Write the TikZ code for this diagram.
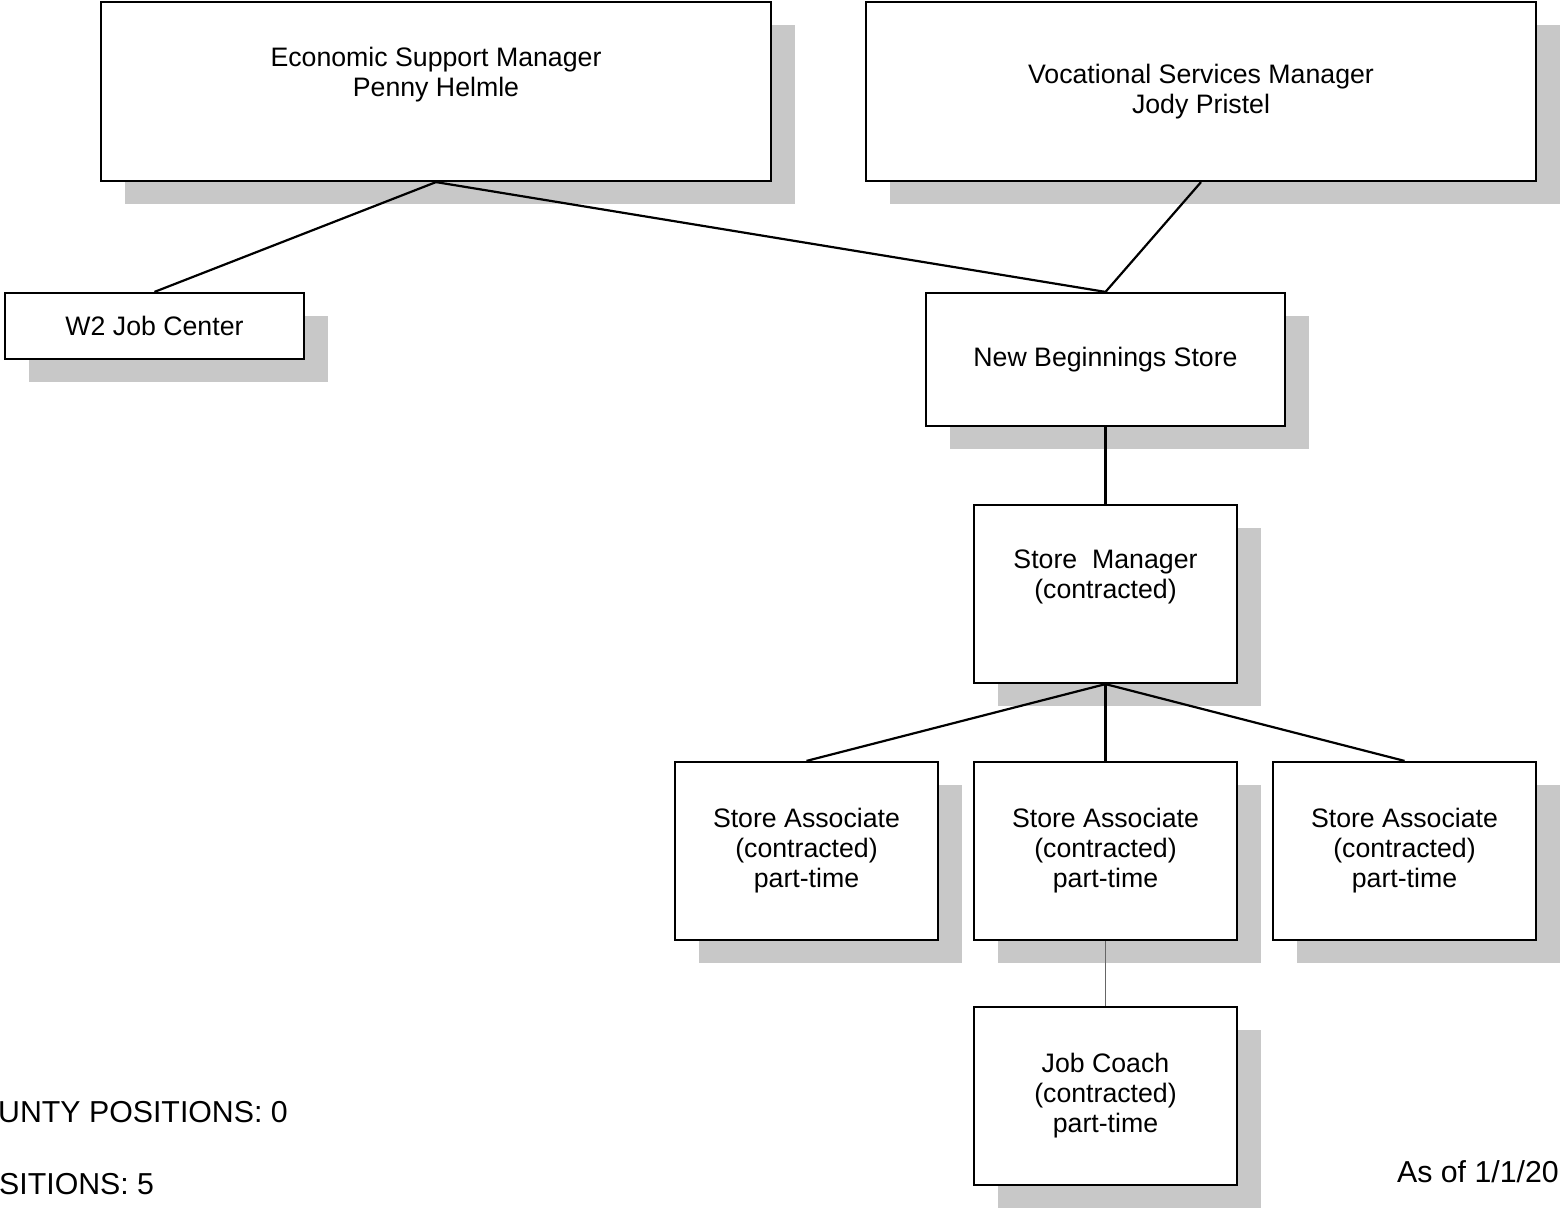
\documentclass[tikz,border=0pt]{standalone}
\usepackage{fontspec}
\setmainfont{Liberation Sans}
\usetikzlibrary{shadows}
\definecolor{shadowgray}{HTML}{C8C8C8}
\begin{document}
\begin{tikzpicture}[x=1pt,y=-1pt,
  orgbox/.style={draw=black, line width=2.2pt, fill=white, inner sep=0pt, align=center,
    font=\fontsize{26.7}{30}\selectfont,
    drop shadow={shadow xshift=23.5pt, shadow yshift=-23pt, opacity=1, fill=shadowgray}},
  conn/.style={line width=2.2pt, draw=black},
  softconn/.style={line width=1.8pt, draw=black!60},
  note/.style={inner sep=0pt, font=\fontsize{30.3}{34}\selectfont}]
\useasboundingbox (0,0) rectangle (1560,1209);
\node[orgbox, minimum width=670pt, minimum height=179pt] (esm) at (436,91.5) {Economic Support Manager\\Penny Helmle\\\strut};
\node[orgbox, minimum width=670pt, minimum height=179pt] (vsm) at (1201,91.5) {Vocational Services Manager\\Jody Pristel};
\node[orgbox, minimum width=299pt, minimum height=66pt] (w2) at (154.5,326) {W2 Job Center};
\node[orgbox, minimum width=359pt, minimum height=133pt] (nbs) at (1105.5,359.5) {New Beginnings Store};
\node[orgbox, minimum width=263pt, minimum height=178pt] (sm) at (1105.5,594) {Store\ \ Manager\\(contracted)\\\strut};
\node[orgbox, minimum width=263pt, minimum height=178pt] (sa1) at (806.5,851) {Store Associate\\(contracted)\\part-time};
\node[orgbox, minimum width=263pt, minimum height=178pt] (sa2) at (1105.5,851) {Store Associate\\(contracted)\\part-time};
\node[orgbox, minimum width=263pt, minimum height=178pt] (sa3) at (1404.5,851) {Store Associate\\(contracted)\\part-time};
\node[orgbox, minimum width=263pt, minimum height=178pt] (jc) at (1105.5,1096) {Job Coach\\(contracted)\\part-time};
\draw[conn] (esm.south) -- (w2.north);
\draw[conn] (esm.south) -- (nbs.north);
\draw[conn] (vsm.south) -- (nbs.north);
\draw[conn] (nbs.south) -- (sm.north);
\draw[conn] (sm.south) -- (sa1.north);
\draw[conn] (sm.south) -- (sa2.north);
\draw[conn] (sm.south) -- (sa3.north);
\draw[softconn] (sa2.south) -- (jc.north);
\node[note, anchor=west] (county) at (-2,1112) {UNTY POSITIONS: 0};
\node[note, anchor=west] (positions) at (-1,1184) {SITIONS: 5};
\node[note, anchor=east] (asof) at (1559,1172) {As of 1/1/20};
\end{tikzpicture}
\end{document}
